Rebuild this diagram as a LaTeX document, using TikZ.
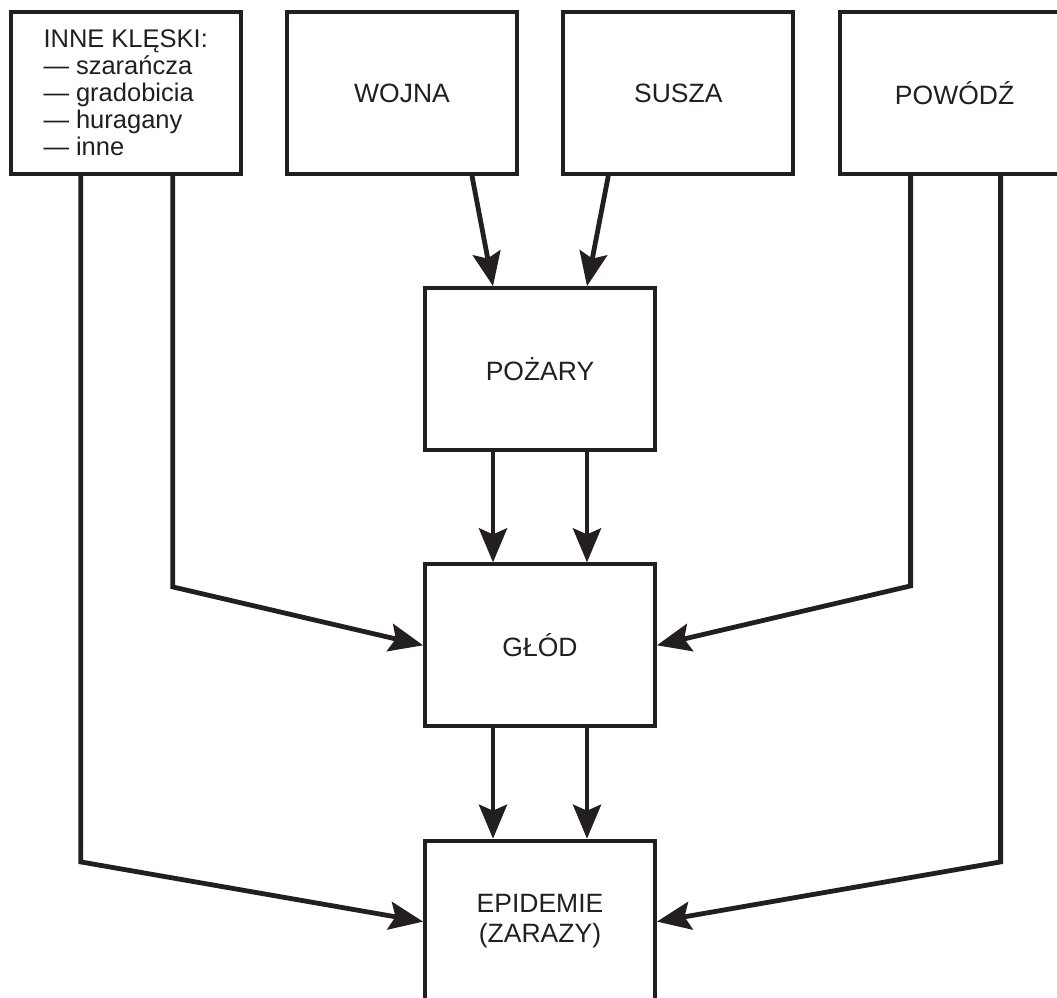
\documentclass[tikz,border=0pt]{standalone}
\usepackage{fontspec}
\setmainfont{Liberation Sans}
\usetikzlibrary{arrows.meta,positioning}
\definecolor{ink}{RGB}{35,31,32}

\begin{document}
\begin{tikzpicture}[x=1pt,y=-1pt,
node distance=110.5pt and 42.5pt,
box/.style={draw=ink,line width=3.8pt,minimum width=230pt,minimum height=162pt,align=center,text=ink,font=\fontsize{26.5}{30}\selectfont},
arr/.style={-{Stealth[length=34pt,width=28pt,inset=6pt]},line width=4.8pt,draw=ink,line join=miter}
]
\useasboundingbox (0,0) rectangle (1057,998);
\clip (0,0) rectangle (1057,998);
\fill[white] (0,0) rectangle (1057,998);
% top row
\node[box] (wojna) at (402,93) {WOJNA};
\node[box,right=of wojna] (susza) {SUSZA};
\node[box,left=of wojna,align=left,font=\fontsize{25.5}{27}\selectfont] (kleski) {INNE KLĘSKI:\\— szarańcza\\— gradobicia\\— huragany\\— inne};
\node[box,right=of susza] (powodz) {POWÓDŹ};
% middle column
\node[box] (pozary) at (540,369) {POŻARY};
\node[box,below=of pozary] (glod) {GŁÓD};
\node[box,below=of glod] (epidemie) {EPIDEMIE\\(ZARAZY)};
\draw[arr] ([xshift=70pt]wojna.south) -- ([xshift=-47pt]pozary.north);
\draw[arr] ([xshift=-70pt]susza.south) -- ([xshift=47pt]pozary.north);
\draw[arr] ([xshift=-47pt]pozary.south) -- ([xshift=-47pt]glod.north);
\draw[arr] ([xshift=47pt]pozary.south) -- ([xshift=47pt]glod.north);
\draw[arr] ([xshift=-47pt]glod.south) -- ([xshift=-47pt]epidemie.north);
\draw[arr] ([xshift=47pt]glod.south) -- ([xshift=47pt]epidemie.north);
% side feeds
\draw[arr] ([xshift=47pt]kleski.south) -- ++(0,411) -- (glod.west);
\draw[arr] ([xshift=-45pt]kleski.south) -- ++(0,686) -- (epidemie.west);
\draw[arr] ([xshift=-44pt]powodz.south) -- ++(0,410) -- (glod.east);
\draw[arr] ([xshift=46pt]powodz.south) -- ++(0,686) -- (epidemie.east);
\end{tikzpicture}
\end{document}
